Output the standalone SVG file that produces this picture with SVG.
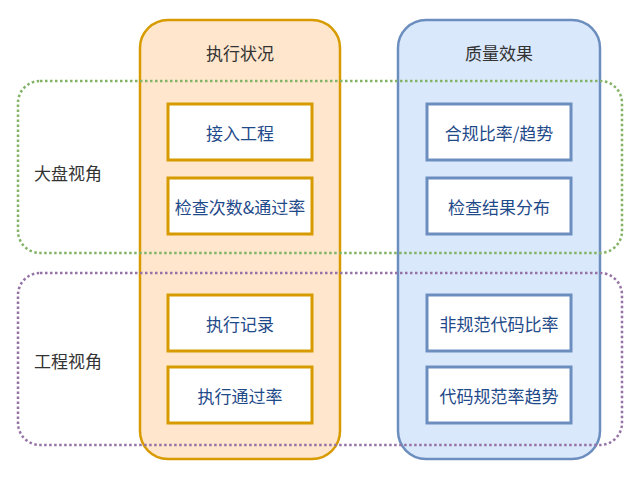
<svg xmlns="http://www.w3.org/2000/svg" width="640" height="480" viewBox="0 0 640 480">
<style>
text{font-family:"Noto Sans CJK SC","Noto Sans",sans-serif;text-anchor:middle;dominant-baseline:central}
.hd{font-size:17px;fill:#333}
.nt{font-size:17px;fill:#1f4a8a}
.on{fill:#fff;stroke:#d79b00;stroke-width:3}
.bn{fill:#fff;stroke:#6c8ebf;stroke-width:3}
.dot{fill:none;stroke-width:2.5;stroke-dasharray:2.5 2.5}
</style>
<rect width="640" height="480" fill="#fff"/>
<g id="col-exec"><rect x="140" y="20" width="200" height="439" rx="28" fill="#ffe6cc" stroke="#d79b00" stroke-width="2.5"/><text class="hd" x="240" y="52">执行状况</text></g>
<g id="col-quality"><rect x="398" y="20" width="202" height="439" rx="28" fill="#dae8fc" stroke="#6c8ebf" stroke-width="2.5"/><text class="hd" x="499" y="52">质量效果</text></g>
<g id="view-overall"><rect class="dot" x="18" y="81" width="604" height="172" rx="22" stroke="#82b366"/><text class="hd" x="68" y="172">大盘视角</text></g>
<g id="view-project"><rect class="dot" x="18" y="273" width="604" height="172" rx="22" stroke="#9673a6"/><text class="hd" x="68" y="360">工程视角</text></g>
<g id="n1"><rect class="on" x="168" y="104" width="144" height="56"/><text class="nt" x="240" y="132">接入工程</text></g>
<g id="n2"><rect class="on" x="168" y="178" width="144" height="56"/><text class="nt" x="240" y="206">检查次数&amp;通过率</text></g>
<g id="n3"><rect class="on" x="168" y="295" width="144" height="56"/><text class="nt" x="240" y="323">执行记录</text></g>
<g id="n4"><rect class="on" x="168" y="367" width="144" height="56"/><text class="nt" x="240" y="395">执行通过率</text></g>
<g id="n5"><rect class="bn" x="427" y="104" width="144" height="56"/><text class="nt" x="499" y="132">合规比率/趋势</text></g>
<g id="n6"><rect class="bn" x="427" y="178" width="144" height="56"/><text class="nt" x="499" y="206">检查结果分布</text></g>
<g id="n7"><rect class="bn" x="427" y="295" width="144" height="56"/><text class="nt" x="499" y="323">非规范代码比率</text></g>
<g id="n8"><rect class="bn" x="427" y="367" width="144" height="56"/><text class="nt" x="499" y="395">代码规范率趋势</text></g>
<g id="connectors"/>
</svg>
